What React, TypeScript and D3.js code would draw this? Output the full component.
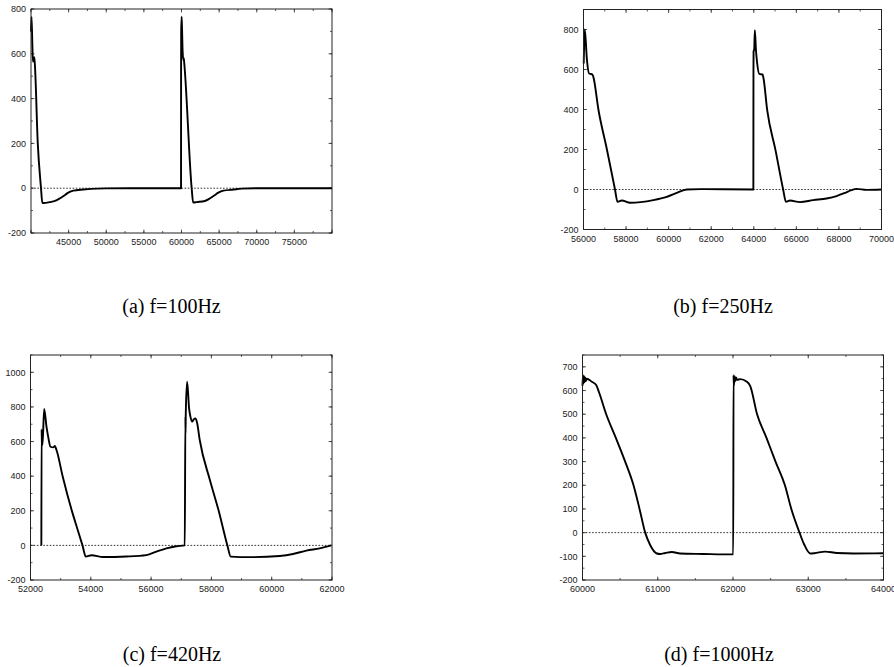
import React from "react";
import * as d3 from "d3";

// ---------- data ----------
// (a) f=100Hz
const timeA = [40000, 40070, 40180, 40260, 40350, 40420, 40500, 40900, 41330, 41500, 41700, 42500, 43190, 43850, 44520, 44960, 45630, 46950, 48000, 50000, 55000, 59940,
  59945, 59960, 60020, 60080, 60150, 60245, 60300, 60360, 61350, 61550, 62000, 63100, 63790, 64450, 64900, 65560, 66890, 68000, 70000, 80000];
const valueA = [700, 765, 640, 565, 570, 585, 560, 200, 0, -65, -66, -62, -57, -45, -30, -20, -11, -6, -3, -1, 0, 0,
  500, 700, 766, 700, 610, 572, 580, 560, 0, -64, -62, -57, -45, -30, -20, -11, -6, -2, 0, 0];

// (b) f=250Hz
const timeB = [56010, 56060, 56160, 56260, 56420, 56470, 56700, 57100, 57480, 57600, 57800, 58190, 59280, 59910, 60380, 60850, 61500, 63980,
  63985, 63990, 64020, 64050, 64100, 64160, 64260, 64410, 64450, 64630, 65020, 65380, 65510, 65700, 66170, 66790, 67420, 67890, 68280, 68590, 68830, 69300, 70000];
const valueB = [630, 800, 650, 580, 575, 560, 400, 200, 0, -62, -55, -66, -53, -37, -17, 0, 2, 0,
  600, 690, 700, 797, 700, 630, 578, 575, 560, 397, 197, 0, -62, -55, -63, -53, -45, -33, -17, -3, 3, -2, 0];

// (c) f=420Hz
const timeC = [52360, 52368, 52380, 52398, 52453, 52530, 52586, 52663, 52751, 52807, 52862, 53070, 53380, 53550, 53724, 53834, 54022, 54409, 55182, 55845, 56177, 56508, 56840, 57116,
  57138, 57142, 57150, 57194, 57260, 57304, 57360, 57414, 57470, 57525, 57613, 57950, 58250, 58530, 58641, 59271, 60265, 60707, 61149, 61591, 61978];
const valueC = [0, 670, 590, 580, 788, 686, 628, 570, 566, 574, 551, 397, 195, 98, 0, -65, -57, -67, -64, -56, -36, -17, -5, 0,
  744, 650, 760, 946, 792, 744, 715, 728, 734, 709, 609, 378, 195, 0, -65, -68, -61, -50, -30, -17, 0];

// (d) f=1000Hz
const timeD = [60000, 60005, 60012, 60020, 60028, 60036, 60045, 60058, 60124, 60182, 60217, 60315, 60443, 60567, 60678, 60758, 60833, 60899, 60988, 61030, 61100, 61187, 61298, 61600, 62003,
  62007, 62012, 62020, 62030, 62040, 62055, 62095, 62184, 62228, 62320, 62445, 62565, 62690, 62775, 62884, 62946, 63026, 63080, 63225, 63380, 63600, 64000];
const valueD = [620, 665, 630, 660, 635, 655, 640, 650, 637, 623, 595, 500, 400, 300, 200, 100, 0, -52, -88, -90, -86, -82, -88, -90, -92,
  665, 620, 660, 640, 655, 645, 648, 637, 620, 500, 400, 300, 200, 100, 0, -50, -88, -87, -80, -86, -88, -87];

const captions = ["(a) f=100Hz", "(b) f=250Hz", "(c) f=420Hz", "(d) f=1000Hz"];

// axis tick values
const xTicksA = [45000, 50000, 55000, 60000, 65000, 70000, 75000];
const yTicksA = [-200, 0, 200, 400, 600, 800];
const xTicksB = [56000, 58000, 60000, 62000, 64000, 66000, 68000, 70000];
const yTicksB = [-200, 0, 200, 400, 600, 800];
const xTicksC = [52000, 54000, 56000, 58000, 60000, 62000];
const yTicksC = [-200, 0, 200, 400, 600, 800, 1000];
const xTicksD = [60000, 61000, 62000, 63000, 64000];
const yTicksD = [-200, -100, 0, 100, 200, 300, 400, 500, 600, 700];

// ---------- layout ----------
const panels = [
  { xs: timeA, ys: valueA, xDom: [40000, 80000], yDom: [-200, 800], xT: xTicksA, yT: yTicksA, xMinor: 2500, yMinor: 100,
    box: { l: 31, r: 332, t: 9, b: 233 }, cap: { x: 171.5, y: 313 }, caption: captions[0] },
  { xs: timeB, ys: valueB, xDom: [56000, 70000], yDom: [-200, 900], xT: xTicksB, yT: yTicksB, xMinor: 1000, yMinor: 100,
    box: { l: 583.5, r: 881.5, t: 9.5, b: 229.5 }, cap: { x: 723, y: 313 }, caption: captions[1] },
  { xs: timeC, ys: valueC, xDom: [52000, 62000], yDom: [-200, 1100], xT: xTicksC, yT: yTicksC, xMinor: 1000, yMinor: 100,
    box: { l: 30.5, r: 332, t: 355, b: 580 }, cap: { x: 172, y: 660.5 }, caption: captions[2] },
  { xs: timeD, ys: valueD, xDom: [60000, 64000], yDom: [-200, 750], xT: xTicksD, yT: yTicksD, xMinor: 500, yMinor: 50,
    box: { l: 582.5, r: 883.5, t: 355, b: 580 }, cap: { x: 719, y: 660.5 }, caption: captions[3] },
];

function Panel({ p }: { p: any }) {
  const { l, r, t, b } = p.box;
  const x = d3.scaleLinear().domain(p.xDom).range([l, r]);
  const y = d3.scaleLinear().domain(p.yDom).range([b, t]);
  const pts = p.xs.map((v: number, i: number) => [v, p.ys[i]] as [number, number]);
  const line = d3.line<[number, number]>().x((d) => x(d[0])).y((d) => y(d[1])).curve(d3.curveMonotoneX);
  const xMinor = d3.range(p.xDom[0], p.xDom[1] + 1, p.xMinor);
  const yMinor = d3.range(p.yDom[0], p.yDom[1] + 1, p.yMinor);
  const xMajor = d3.range(p.xDom[0], p.xDom[1] + 1, p.xT[1] - p.xT[0]);
  const yMajor = d3.range(p.yDom[0], p.yDom[1] + 1, p.yT[1] - p.yT[0]);
  const tickCol = "#333";
  const major = 3.5, minor = 2;
  return (
    <g>
      <line x1={l} x2={r} y1={y(0)} y2={y(0)} stroke="#000" strokeWidth={0.8} strokeDasharray="1.6,1.6" />
      {xMinor.map((v: number) => (
        <g key={"xm" + v}>
          <line x1={x(v)} x2={x(v)} y1={b} y2={b - minor} stroke={tickCol} strokeWidth={0.8} />
          <line x1={x(v)} x2={x(v)} y1={t} y2={t + minor} stroke={tickCol} strokeWidth={0.8} />
        </g>
      ))}
      {xMajor.map((v: number) => (
        <g key={"xM" + v}>
          <line x1={x(v)} x2={x(v)} y1={b} y2={b - major} stroke={tickCol} strokeWidth={0.8} />
          <line x1={x(v)} x2={x(v)} y1={t} y2={t + major} stroke={tickCol} strokeWidth={0.8} />
        </g>
      ))}
      {yMinor.map((v: number) => (
        <g key={"ym" + v}>
          <line x1={l} x2={l + minor} y1={y(v)} y2={y(v)} stroke={tickCol} strokeWidth={0.8} />
          <line x1={r} x2={r - minor} y1={y(v)} y2={y(v)} stroke={tickCol} strokeWidth={0.8} />
        </g>
      ))}
      {yMajor.map((v: number) => (
        <g key={"yM" + v}>
          <line x1={l} x2={l + major} y1={y(v)} y2={y(v)} stroke={tickCol} strokeWidth={0.8} />
          <line x1={r} x2={r - major} y1={y(v)} y2={y(v)} stroke={tickCol} strokeWidth={0.8} />
        </g>
      ))}
      <path d={line(pts) || ""} fill="none" stroke="#000" strokeWidth={1.9} strokeLinejoin="round" />
      <rect x={l} y={t} width={r - l} height={b - t} fill="none" stroke="#222" strokeWidth={1} />
      {p.xT.map((v: number) => (
        <text key={"xl" + v} x={x(v)} y={b + 12} textAnchor="middle" fontSize={9} fill="#222"
          fontFamily="'Liberation Sans', Arial, sans-serif">{v}</text>
      ))}
      {p.yT.map((v: number) => (
        <text key={"yl" + v} x={l - 5} y={y(v) + 3.2} textAnchor="end" fontSize={9} fill="#222"
          fontFamily="'Liberation Sans', Arial, sans-serif">{v}</text>
      ))}
      <text x={p.cap.x} y={p.cap.y} textAnchor="middle" fontSize={20} fill="#000"
        fontFamily="'Liberation Serif', 'Times New Roman', serif">{p.caption}</text>
    </g>
  );
}

export default function App() {
  return (
    <svg width={894} height={667} style={{ position: "absolute", left: 0, top: 0, background: "#fff" }}>
      <rect x={0} y={0} width={894} height={667} fill="#fff" />
      {panels.map((p, i) => (
        <Panel key={i} p={p} />
      ))}
    </svg>
  );
}
